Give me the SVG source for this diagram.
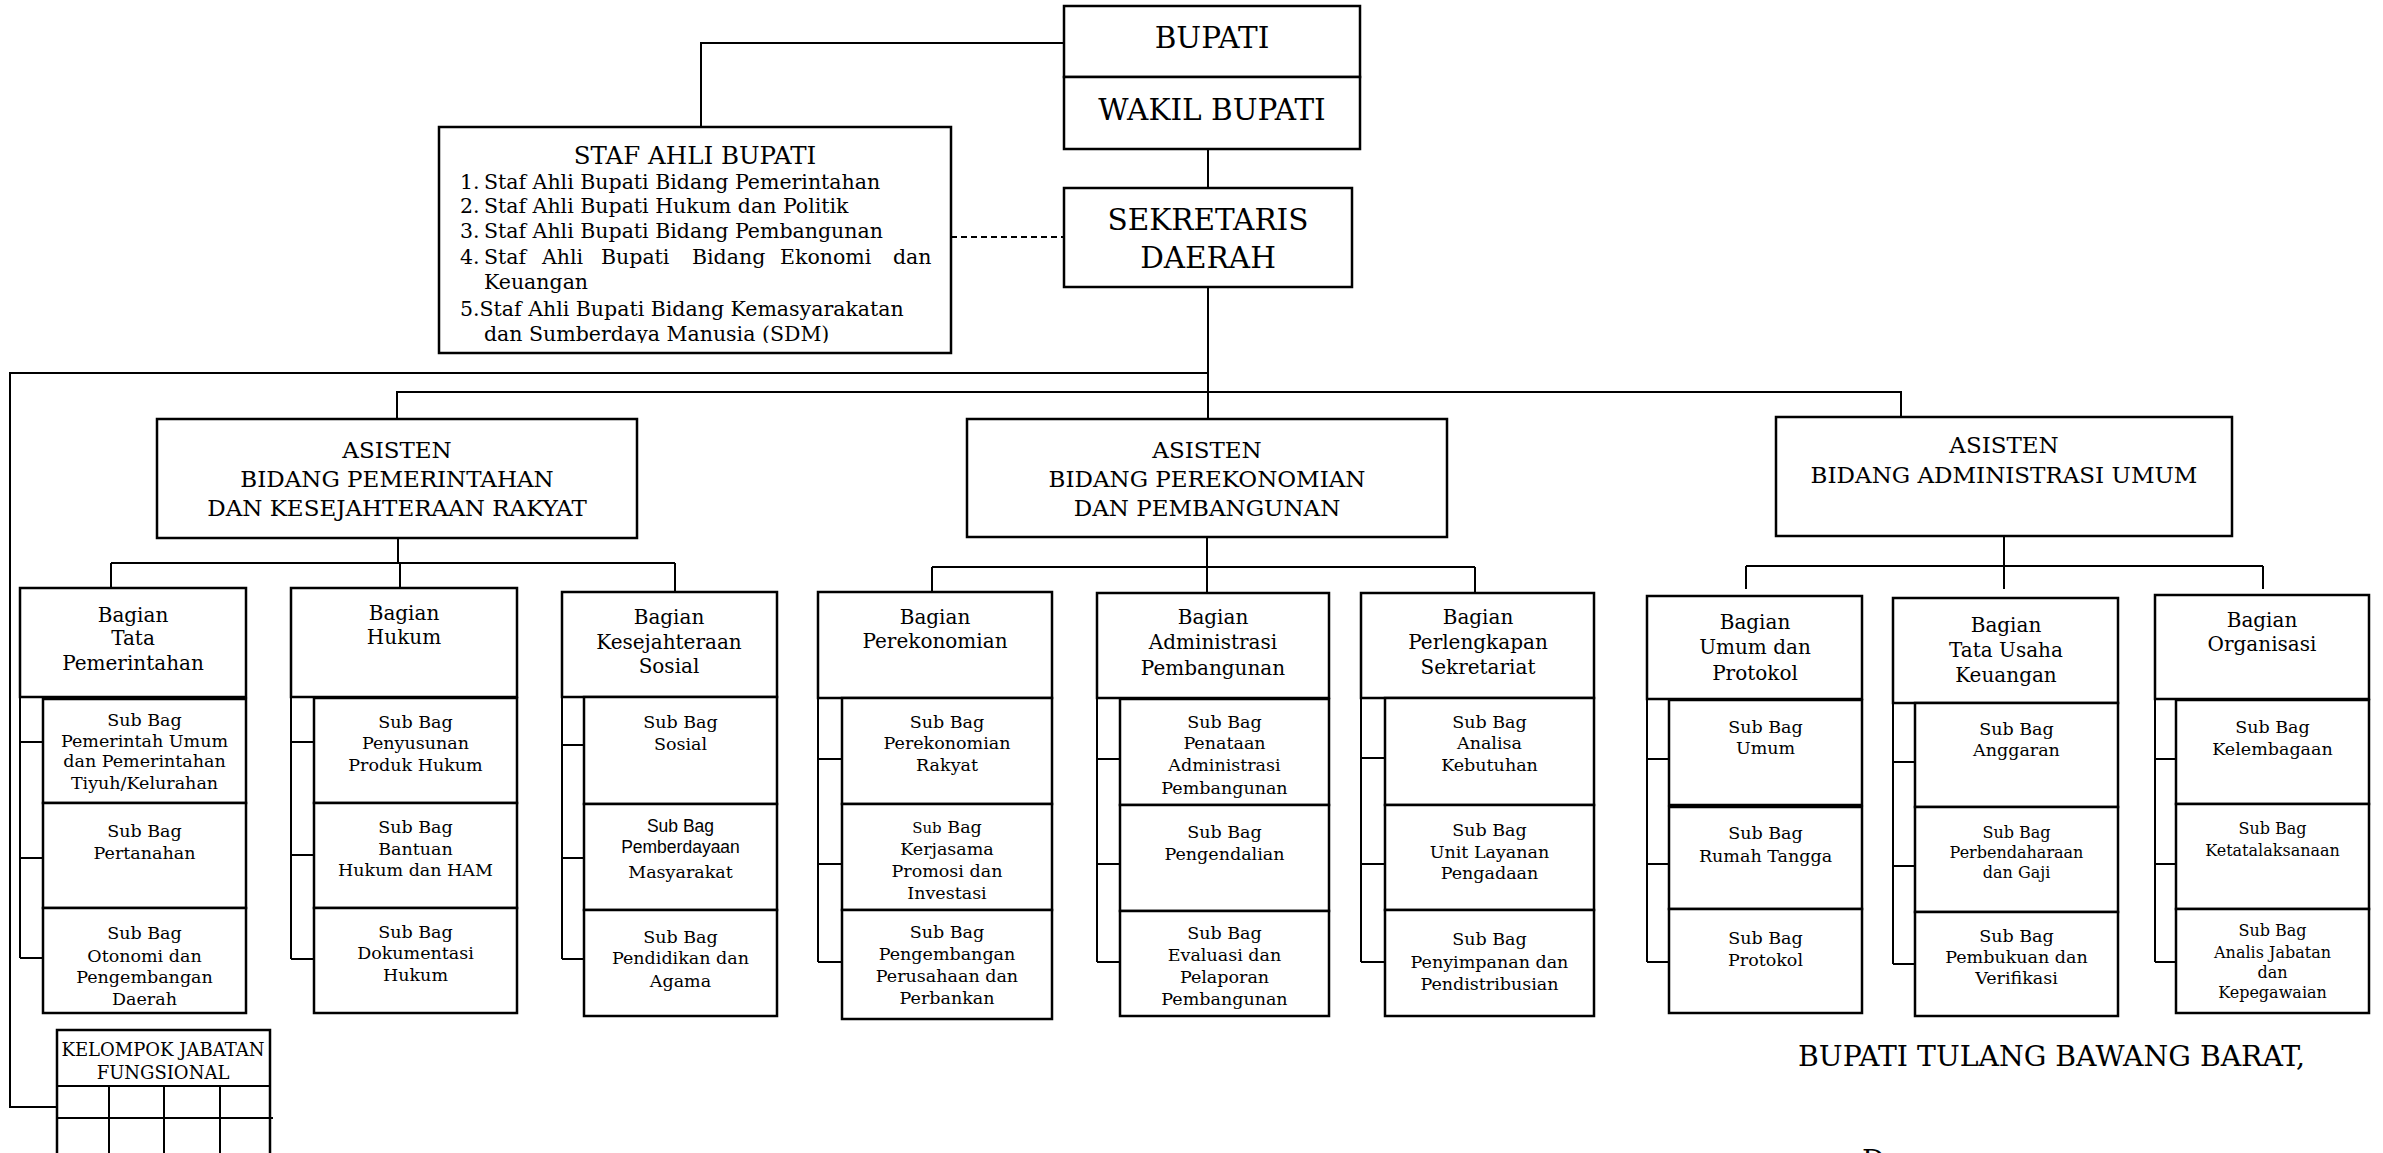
<svg xmlns="http://www.w3.org/2000/svg" width="2383" height="1153" viewBox="0 0 2383 1153">
<defs>
<style>
.b{fill:#fff;stroke:#000;stroke-width:2.5}
.l{fill:none;stroke:#000;stroke-width:2}
.d{fill:none;stroke:#000;stroke-width:2;stroke-dasharray:6 4}
text{font-family:"DejaVu Serif","Liberation Serif",serif;fill:#000;text-anchor:middle}
.top{font-size:29.5px}
.as{font-size:23px}
.sa{font-size:20.5px;text-anchor:start}
.sat{font-size:24.5px}
.bg{font-size:20px}
.sb{font-size:17.5px}
.sm{font-size:16px}
.sans{font-family:"Liberation Sans","DejaVu Sans",sans-serif}
.kj{font-size:18px}
.sig{font-size:28.3px;text-anchor:start}
</style>
<clipPath id="stafclip"><rect x="440" y="128" width="510" height="215"/></clipPath>
</defs>
<rect width="2383" height="1153" fill="#fff"/>

<g id="connectors">
<path class="l" d="M1064,43 H701 V127"/>
<path class="l" d="M1208,149 V188"/>
<path class="d" d="M951,237 H1063"/>
<path class="l" d="M1208,287 V419"/>
<path class="l" d="M1208,373 H10 V1107 H57"/>
<path class="l" d="M397,419 V392 H1901 V417"/>
<path class="l" d="M398,538 V563 M111,563 H675 M111,563 V588 M400,563 V588 M675,563 V592"/>
<path class="l" d="M1207,537 V592 M932,567 H1475 M932,567 V592 M1475,567 V592"/>
<path class="l" d="M2004,536 V589 M1746,566 H2263 M1746,566 V589 M2263,566 V589"/>
<path class="l" d="M20,697 V958 M20,742 H43 M20,858 H43 M20,958 H43"/>
<path class="l" d="M291,697 V959 M291,742 H314 M291,855 H314 M291,959 H314"/>
<path class="l" d="M562,697 V959 M562,745 H584 M562,858 H584 M562,959 H584"/>
<path class="l" d="M818,698 V962 M818,759 H842 M818,864 H842 M818,962 H842"/>
<path class="l" d="M1097,698 V962 M1097,759 H1120 M1097,864 H1120 M1097,962 H1120"/>
<path class="l" d="M1361,698 V962 M1361,758 H1385 M1361,864 H1385 M1361,962 H1385"/>
<path class="l" d="M1647,699 V962 M1647,759 H1669 M1647,864 H1669 M1647,962 H1669"/>
<path class="l" d="M1893,703 V964 M1893,762 H1915 M1893,866 H1915 M1893,964 H1915"/>
<path class="l" d="M2155,699 V962 M2155,759 H2176 M2155,864 H2176 M2155,962 H2176"/>
</g>

<g id="bupati">
<rect class="b" x="1064" y="6" width="296" height="71"/>
<text class="top" x="1212" y="48">BUPATI</text>
</g>
<g id="wakil-bupati">
<rect class="b" x="1064" y="77" width="296" height="72"/>
<text class="top" x="1212" y="120">WAKIL BUPATI</text>
</g>
<g id="sekda">
<rect class="b" x="1064" y="188" width="288" height="99"/>
<text class="top" x="1208" y="230">SEKRETARIS</text>
<text class="top" x="1208" y="268">DAERAH</text>
</g>
<g id="staf-ahli">
<rect class="b" x="439" y="127" width="512" height="226"/>
<text class="sat" x="695" y="164">STAF AHLI BUPATI</text>
<g clip-path="url(#stafclip)">
<text class="sa" x="460" y="189">1.</text><text class="sa" x="484" y="189">Staf Ahli Bupati Bidang Pemerintahan</text>
<text class="sa" x="460" y="213">2.</text><text class="sa" x="484" y="213">Staf Ahli Bupati Hukum dan Politik</text>
<text class="sa" x="460" y="238">3.</text><text class="sa" x="484" y="238">Staf Ahli Bupati Bidang Pembangunan</text>
<text class="sa" x="460" y="264">4.</text><text class="sa" x="484" y="264">Staf</text><text class="sa" x="542" y="264">Ahli</text><text class="sa" x="601" y="264">Bupati</text><text class="sa" x="692" y="264">Bidang</text><text class="sa" x="780" y="264">Ekonomi</text><text class="sa" x="893" y="264">dan</text>
<text class="sa" x="484" y="289">Keuangan</text>
<text class="sa" x="460" y="316">5.Staf Ahli Bupati Bidang Kemasyarakatan</text>
<text class="sa" x="484" y="341">dan Sumberdaya Manusia (SDM)</text>
</g>
</g>

<g id="asisten-1">
<rect class="b" x="157" y="419" width="480" height="119"/>
<text class="as" x="397" y="458">ASISTEN</text>
<text class="as" x="397" y="487">BIDANG PEMERINTAHAN</text>
<text class="as" x="397" y="516">DAN KESEJAHTERAAN RAKYAT</text>
</g>
<g id="asisten-2">
<rect class="b" x="967" y="419" width="480" height="118"/>
<text class="as" x="1207" y="458">ASISTEN</text>
<text class="as" x="1207" y="487">BIDANG PEREKONOMIAN</text>
<text class="as" x="1207" y="516">DAN PEMBANGUNAN</text>
</g>
<g id="asisten-3">
<rect class="b" x="1776" y="417" width="456" height="119"/>
<text class="as" x="2004" y="453">ASISTEN</text>
<text class="as" x="2004" y="483">BIDANG ADMINISTRASI UMUM</text>
</g>

<g id="bagian-tata-pemerintahan">
<rect class="b" x="20" y="588" width="226" height="109"/>
<text class="bg" x="133" y="622">Bagian</text><text class="bg" x="133" y="645">Tata</text><text class="bg" x="133" y="670">Pemerintahan</text>
</g>
<g id="sb-pemerintah-umum"><rect class="b" x="43" y="699" width="203" height="104"/>
<text class="sb" x="144.5" y="726">Sub Bag</text><text class="sb" x="144.5" y="747">Pemerintah Umum</text><text class="sb" x="144.5" y="767">dan Pemerintahan</text><text class="sb" x="144.5" y="789">Tiyuh/Kelurahan</text></g>
<g id="sb-pertanahan"><rect class="b" x="43" y="803" width="203" height="105"/>
<text class="sb" x="144.5" y="837">Sub Bag</text><text class="sb" x="144.5" y="859">Pertanahan</text></g>
<g id="sb-otonomi"><rect class="b" x="43" y="908" width="203" height="105"/>
<text class="sb" x="144.5" y="939">Sub Bag</text><text class="sb" x="144.5" y="962">Otonomi dan</text><text class="sb" x="144.5" y="983">Pengembangan</text><text class="sb" x="144.5" y="1005">Daerah</text></g>

<g id="bagian-hukum">
<rect class="b" x="291" y="588" width="226" height="109"/>
<text class="bg" x="404" y="620">Bagian</text><text class="bg" x="404" y="644">Hukum</text>
</g>
<g id="sb-penyusunan"><rect class="b" x="314" y="698" width="203" height="105"/>
<text class="sb" x="415.5" y="728">Sub Bag</text><text class="sb" x="415.5" y="749">Penyusunan</text><text class="sb" x="415.5" y="771">Produk Hukum</text></g>
<g id="sb-bantuan"><rect class="b" x="314" y="803" width="203" height="105"/>
<text class="sb" x="415.5" y="833">Sub Bag</text><text class="sb" x="415.5" y="855">Bantuan</text><text class="sb" x="415.5" y="876">Hukum dan HAM</text></g>
<g id="sb-dokumentasi"><rect class="b" x="314" y="908" width="203" height="105"/>
<text class="sb" x="415.5" y="938">Sub Bag</text><text class="sb" x="415.5" y="959">Dokumentasi</text><text class="sb" x="415.5" y="981">Hukum</text></g>

<g id="bagian-kesejahteraan">
<rect class="b" x="562" y="592" width="215" height="105"/>
<text class="bg" x="669" y="624">Bagian</text><text class="bg" x="669" y="649">Kesejahteraan</text><text class="bg" x="669" y="673">Sosial</text>
</g>
<g id="sb-sosial"><rect class="b" x="584" y="697" width="193" height="107"/>
<text class="sb" x="680.5" y="728">Sub Bag</text><text class="sb" x="680.5" y="750">Sosial</text></g>
<g id="sb-pemberdayaan"><rect class="b" x="584" y="804" width="193" height="106"/>
<text class="sb sans" x="680.5" y="832">Sub Bag</text><text class="sb sans" x="680.5" y="853">Pemberdayaan</text><text class="sb" x="680.5" y="878">Masyarakat</text></g>
<g id="sb-pendidikan"><rect class="b" x="584" y="910" width="193" height="106"/>
<text class="sb" x="680.5" y="943">Sub Bag</text><text class="sb" x="680.5" y="964">Pendidikan dan</text><text class="sb" x="680.5" y="987">Agama</text></g>

<g id="bagian-perekonomian">
<rect class="b" x="818" y="592" width="234" height="106"/>
<text class="bg" x="935" y="624">Bagian</text><text class="bg" x="935" y="648">Perekonomian</text>
</g>
<g id="sb-perekonomian-rakyat"><rect class="b" x="842" y="698" width="210" height="106"/>
<text class="sb" x="947" y="728">Sub Bag</text><text class="sb" x="947" y="749">Perekonomian</text><text class="sb" x="947" y="771">Rakyat</text></g>
<g id="sb-kerjasama"><rect class="b" x="842" y="804" width="210" height="106"/>
<text class="sb" x="947" y="833"><tspan font-size="15px">Sub</tspan> Bag</text><text class="sb" x="947" y="855">Kerjasama</text><text class="sb" x="947" y="877">Promosi dan</text><text class="sb" x="947" y="899">Investasi</text></g>
<g id="sb-pengembangan-perusahaan"><rect class="b" x="842" y="910" width="210" height="109"/>
<text class="sb" x="947" y="938">Sub Bag</text><text class="sb" x="947" y="960">Pengembangan</text><text class="sb" x="947" y="982">Perusahaan dan</text><text class="sb" x="947" y="1004">Perbankan</text></g>

<g id="bagian-administrasi-pembangunan">
<rect class="b" x="1097" y="593" width="232" height="105"/>
<text class="bg" x="1213" y="624">Bagian</text><text class="bg" x="1213" y="649">Administrasi</text><text class="bg" x="1213" y="675">Pembangunan</text>
</g>
<g id="sb-penataan"><rect class="b" x="1120" y="699" width="209" height="106"/>
<text class="sb" x="1224.5" y="728">Sub Bag</text><text class="sb" x="1224.5" y="749">Penataan</text><text class="sb" x="1224.5" y="771">Administrasi</text><text class="sb" x="1224.5" y="794">Pembangunan</text></g>
<g id="sb-pengendalian"><rect class="b" x="1120" y="805" width="209" height="106"/>
<text class="sb" x="1224.5" y="838">Sub Bag</text><text class="sb" x="1224.5" y="860">Pengendalian</text></g>
<g id="sb-evaluasi"><rect class="b" x="1120" y="911" width="209" height="105"/>
<text class="sb" x="1224.5" y="939">Sub Bag</text><text class="sb" x="1224.5" y="961">Evaluasi dan</text><text class="sb" x="1224.5" y="983">Pelaporan</text><text class="sb" x="1224.5" y="1005">Pembangunan</text></g>

<g id="bagian-perlengkapan">
<rect class="b" x="1361" y="593" width="233" height="105"/>
<text class="bg" x="1478" y="624">Bagian</text><text class="bg" x="1478" y="649">Perlengkapan</text><text class="bg" x="1478" y="674">Sekretariat</text>
</g>
<g id="sb-analisa"><rect class="b" x="1385" y="698" width="209" height="107"/>
<text class="sb" x="1489.5" y="728">Sub Bag</text><text class="sb" x="1489.5" y="749">Analisa</text><text class="sb" x="1489.5" y="771">Kebutuhan</text></g>
<g id="sb-ulp"><rect class="b" x="1385" y="805" width="209" height="105"/>
<text class="sb" x="1489.5" y="836">Sub Bag</text><text class="sb" x="1489.5" y="858">Unit Layanan</text><text class="sb" x="1489.5" y="879">Pengadaan</text></g>
<g id="sb-penyimpanan"><rect class="b" x="1385" y="910" width="209" height="106"/>
<text class="sb" x="1489.5" y="945">Sub Bag</text><text class="sb" x="1489.5" y="968">Penyimpanan dan</text><text class="sb" x="1489.5" y="990">Pendistribusian</text></g>

<g id="bagian-umum-protokol">
<rect class="b" x="1647" y="596" width="215" height="103"/>
<text class="bg" x="1755" y="629">Bagian</text><text class="bg" x="1755" y="654">Umum dan</text><text class="bg" x="1755" y="680">Protokol</text>
</g>
<g id="sb-umum"><rect class="b" x="1669" y="700" width="193" height="105"/>
<text class="sb" x="1765.5" y="733">Sub Bag</text><text class="sb" x="1765.5" y="754">Umum</text></g>
<g id="sb-rumah-tangga"><rect class="b" x="1669" y="807" width="193" height="102"/>
<text class="sb" x="1765.5" y="839">Sub Bag</text><text class="sb" x="1765.5" y="862">Rumah Tangga</text></g>
<g id="sb-protokol"><rect class="b" x="1669" y="909" width="193" height="104"/>
<text class="sb" x="1765.5" y="944">Sub Bag</text><text class="sb" x="1765.5" y="966">Protokol</text></g>

<g id="bagian-tata-usaha-keuangan">
<rect class="b" x="1893" y="598" width="225" height="105"/>
<text class="bg" x="2006" y="632">Bagian</text><text class="bg" x="2006" y="657">Tata Usaha</text><text class="bg" x="2006" y="682">Keuangan</text>
</g>
<g id="sb-anggaran"><rect class="b" x="1915" y="703" width="203" height="104"/>
<text class="sb" x="2016.5" y="735">Sub Bag</text><text class="sb" x="2016.5" y="756">Anggaran</text></g>
<g id="sb-perbendaharaan"><rect class="b" x="1915" y="807" width="203" height="105"/>
<text class="sm" x="2016.5" y="838">Sub Bag</text><text class="sm" x="2016.5" y="858">Perbendaharaan</text><text class="sm" x="2016.5" y="878">dan Gaji</text></g>
<g id="sb-pembukuan"><rect class="b" x="1915" y="912" width="203" height="104"/>
<text class="sb" x="2016.5" y="942">Sub Bag</text><text class="sb" x="2016.5" y="963">Pembukuan dan</text><text class="sb" x="2016.5" y="984">Verifikasi</text></g>

<g id="bagian-organisasi">
<rect class="b" x="2155" y="595" width="214" height="104"/>
<text class="bg" x="2262" y="627">Bagian</text><text class="bg" x="2262" y="651">Organisasi</text>
</g>
<g id="sb-kelembagaan"><rect class="b" x="2176" y="700" width="193" height="104"/>
<text class="sb" x="2272.5" y="733">Sub Bag</text><text class="sb" x="2272.5" y="755">Kelembagaan</text></g>
<g id="sb-ketatalaksanaan"><rect class="b" x="2176" y="804" width="193" height="105"/>
<text class="sm" x="2272.5" y="834">Sub Bag</text><text class="sm" x="2272.5" y="856">Ketatalaksanaan</text></g>
<g id="sb-anjab"><rect class="b" x="2176" y="909" width="193" height="104"/>
<text class="sm" x="2272.5" y="936">Sub Bag</text><text class="sm" x="2272.5" y="958">Analis Jabatan</text><text class="sm" x="2272.5" y="978">dan</text><text class="sm" x="2272.5" y="998">Kepegawaian</text></g>

<g id="kelompok-jabatan-fungsional">
<rect class="b" x="57" y="1030" width="213" height="140"/>
<path class="l" d="M57,1086 H270 M57,1118 H273 M109,1086 V1170 M164,1086 V1170 M220,1086 V1170"/>
<text class="kj" x="163" y="1056">KELOMPOK JABATAN</text>
<text class="kj" x="163" y="1079">FUNGSIONAL</text>
</g>

<g id="signature">
<text class="sig" x="1798" y="1066">BUPATI TULANG BAWANG BARAT,</text>
<text class="sig" x="1862" y="1170">D</text>
</g>
</svg>
